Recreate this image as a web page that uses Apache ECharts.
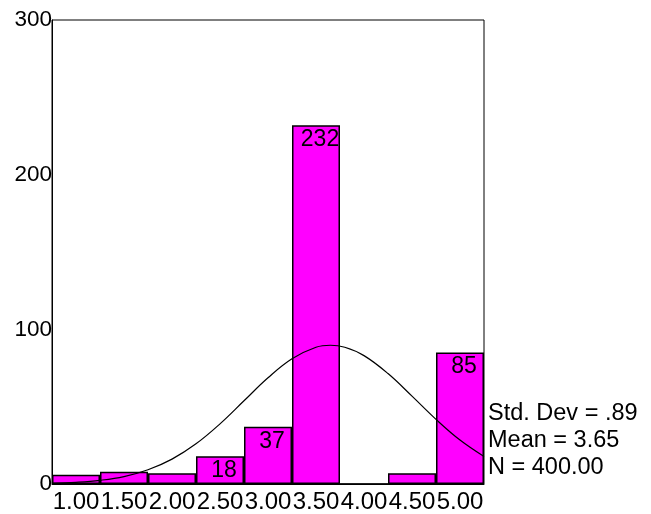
<!DOCTYPE html>
<html>
<head>
<meta charset="utf-8">
<script src="https://cdn.jsdelivr.net/npm/echarts@6/dist/echarts.min.js"></script>
<style>
html,body{margin:0;padding:0;background:#fff;}
#c{width:651px;height:514px;}
</style>
</head>
<body>
<div id="c"></div>
<script>
// Data
var categories = ['1.00','1.50','2.00','2.50','3.00','3.50','4.00','4.50','5.00'];
var counts = [6, 8, 7, 18, 37, 232, 0, 7, 85];
var yTicks = [0, 100, 200, 300];
// Normal curve overlay
var curveX = [0.75,1.00,1.25,1.50,1.75,2.00,2.25,2.50,2.75,3.00,3.25,3.50,3.65,3.80,4.00,4.25,4.50,4.75,5.00,5.25];
var curveY = [0.4,1.1,2.4,4.8,9.2,16.1,26.0,38.9,53.8,68.7,81.0,88.4,89.7,88.4,83.0,71.4,56.8,41.8,28.4,17.8];
var statsLines = ['Std. Dev = .89', 'Mean = 3.65', 'N = 400.00'];

var FONT = '"Liberation Sans", Arial, sans-serif';
var chart = echarts.init(document.getElementById('c'), null, {renderer: 'canvas'});
var curveData = curveX.map(function (x, i) { return [x, curveY[i]]; });

chart.setOption({
  animation: false,
  backgroundColor: '#fff',
  grid: {
    left: 52, right: 167, top: 20, bottom: 30,
    containLabel: false, outerBoundsMode: 'none',
    show: true, borderColor: '#000', borderWidth: 1, backgroundColor: 'transparent'
  },
  xAxis: [{
    type: 'category',
    data: categories,
    boundaryGap: true,
    axisLine: {lineStyle: {color: '#000', width: 1}},
    axisTick: {alignWithLabel: true, length: 5, lineStyle: {color: '#000'}},
    axisLabel: {interval: 0, color: '#000', fontSize: 24, fontFamily: FONT, margin: 6}
  }, {
    type: 'value', min: 0.75, max: 5.25, show: false
  }],
  yAxis: {
    type: 'value', min: yTicks[0], max: yTicks[yTicks.length - 1], interval: 100,
    axisLine: {show: true, lineStyle: {color: '#000', width: 1}},
    axisTick: {show: false},
    splitLine: {show: false},
    axisLabel: {color: '#000', fontSize: 22.5, fontFamily: FONT, margin: 0}
  },
  series: [{
    type: 'bar',
    data: counts,
    barCategoryGap: 0,
    xAxisIndex: 0,
    itemStyle: {color: '#FF00FF', borderColor: '#000', borderWidth: 1.5},
    label: {
      show: true, position: 'insideTop', distance: 3, offset: [4, 0],
      color: '#000', fontSize: 23, fontFamily: FONT,
      formatter: function (p) { return p.value >= 15 ? String(p.value) : ''; }
    }
  }, {
    type: 'line',
    xAxisIndex: 1,
    data: curveData,
    smooth: 0.4,
    showSymbol: false,
    lineStyle: {color: '#000', width: 1.2},
    z: 5
  }],
  graphic: statsLines.map(function (t, i) {
    return {
      type: 'text', left: 488, top: 402 + i * 27,
      style: {text: t, fill: '#000', font: '23.5px ' + FONT}
    };
  })
});
</script>
</body>
</html>
